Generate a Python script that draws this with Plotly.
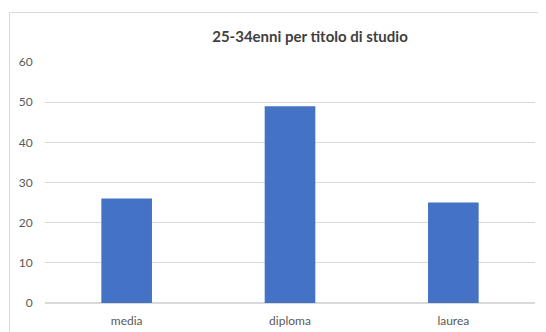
import plotly.graph_objects as go

categories = ["media", "diploma", "laurea"]
values = [26, 49, 25]
y_ticks = [0, 10, 20, 30, 40, 50, 60]

# the page body adds an 8px offset; coordinates below are in figure space
OFF = 8
W, H = 546, 332
L = 45 - OFF
T = 62 - OFF
R = W - (535 - OFF)
B = H - (303 - OFF)
pw, ph = W - L - R, H - T - B

def px_x(p):
    return (p - OFF - L) / pw

def px_y(p):
    return (H - B - (p - OFF)) / ph

fig = go.Figure(go.Bar(
    x=categories, y=values,
    marker=dict(color="#4472C4", line=dict(width=0)),
    width=0.31,
))

fig.update_layout(
    width=W, height=H,
    margin=dict(l=L, r=R, t=T, b=B),
    paper_bgcolor="white", plot_bgcolor="white",
    showlegend=False,
    font=dict(family="Lato, Open Sans, sans-serif", color="#595959", size=12),
    title=dict(text="25-34enni per titolo di studio", x=(310 - OFF) / W, xanchor="center",
               y=1 - (37 - OFF) / H, yanchor="middle",
               font=dict(size=15, color="#404040", family="Lato, sans-serif", weight="bold")),
    xaxis=dict(showgrid=False, showline=False, ticks="outside", ticklen=7,
               tickcolor="rgba(0,0,0,0)", tickfont=dict(size=12, color="#595959")),
    yaxis=dict(range=[0, 60], tickvals=y_ticks, showgrid=True, gridcolor="#D9D9D9", gridwidth=1,
               zeroline=True, zerolinecolor="#D9D9D9", showline=False, ticks="outside", ticklen=9,
               tickcolor="rgba(0,0,0,0)", tickfont=dict(size=12, color="#595959")),
    shapes=[
        dict(type="line", xref="paper", yref="paper", x0=px_x(9.5), x1=px_x(9.5), y0=px_y(12.5), y1=px_y(345),
             line=dict(color="#D9D9D9", width=1)),
        dict(type="line", xref="paper", yref="paper", x0=px_x(9.5), x1=px_x(560), y0=px_y(12.5), y1=px_y(12.5),
             line=dict(color="#D9D9D9", width=1)),
    ],
)

fig.write_html("out.html")
